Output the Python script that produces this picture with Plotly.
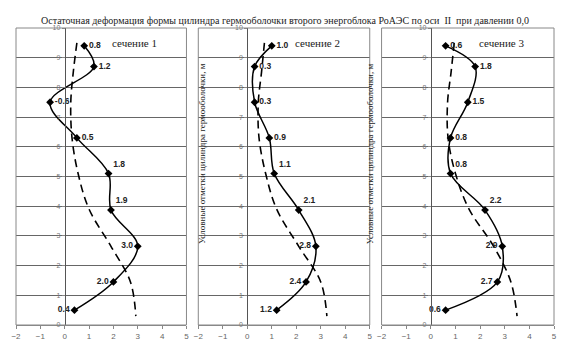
import plotly.graph_objects as go

# ---- data ----
heights = [9.4, 8.7, 7.5, 6.3, 5.1, 3.87, 2.65, 1.45, 0.5]
sec1 = [0.8, 1.2, -0.6, 0.5, 1.8, 1.9, 3.0, 2.0, 0.4]
sec2 = [1.0, 0.3, 0.3, 0.9, 1.1, 2.1, 2.8, 2.4, 1.2]
sec3 = [0.6, 1.8, 1.5, 0.8, 0.8, 2.2, 2.9, 2.7, 0.6]

dash_h = [9.5, 8.5, 7.5, 6.3, 5.1, 3.9, 2.65, 1.45, 0.3]
dash1 = [0.5, 0.35, 0.25, 0.3, 0.55, 1.0, 1.9, 2.7, 2.92]
dash2 = [0.7, 0.58, 0.45, 0.48, 0.75, 1.2, 2.1, 3.0, 3.25]
dash3 = [0.95, 0.82, 0.68, 0.7, 1.0, 1.55, 2.55, 3.25, 3.5]

section_names = ["сечение 1", "сечение 2", "сечение 3"]
title_text = "Остаточная деформация формы цилиндра гермооболочки второго энергоблока РоАЭС по оси  II  при давлении 0,0"
ytitle_text = "Условные отметки цилиндра гермооболочки, м"
xticks = [-2, -1, 0, 1, 2, 3, 4, 5]
yticks = [0, 1, 2, 3, 4, 5, 6, 7, 8, 9, 10]

# ---- styles ----
pos1 = ["middle right", "middle right", "middle right", "middle right", "top right",
        "top right", "middle left", "middle left", "middle left"]
pos2 = ["middle right", "middle right", "middle right", "middle right", "top right",
        "top right", "middle left", "middle left", "middle left"]
pos3 = ["middle right", "middle right", "middle right", "middle right", "top right",
        "top right", "middle left", "middle left", "middle left"]

W, H = 568, 352
ml, mr, mt, mb = 11, 11, 28, 19
pw = W - ml - mr
domains = [[(11 - ml) / pw, (184 - ml) / pw],
           [(196 - ml) / pw, (370 - ml) / pw],
           [(382 - ml) / pw, (557 - ml) / pw]]

fig = go.Figure()
series = [(sec1, dash1, pos1), (sec2, dash2, pos2), (sec3, dash3, pos3)]
grid_col = "#666666"
for i, (s, d, p) in enumerate(series):
    xa = "x" if i == 0 else f"x{i+1}"
    ya = "y" if i == 0 else f"y{i+1}"
    fig.add_trace(go.Scatter(x=d, y=dash_h, mode="lines", xaxis=xa, yaxis=ya,
                             line=dict(color="black", width=1.6, dash="8px,5px",
                                       shape="spline", smoothing=1.0),
                             showlegend=False, hoverinfo="skip"))
    fig.add_trace(go.Scatter(x=s, y=heights, mode="lines+markers+text", xaxis=xa, yaxis=ya,
                             line=dict(color="black", width=1.5, shape="spline", smoothing=1.0),
                             marker=dict(symbol="diamond", size=6, color="black"),
                             text=[f"{v:.1f}" for v in s], textposition=p,
                             textfont=dict(family="Arial, Liberation Sans", size=8.5, color="#222",
                                           weight="bold"),
                             showlegend=False, hoverinfo="skip"))
    dom = domains[i]
    zero_pos = dom[0] + (dom[1] - dom[0]) * 2 / 7
    xkey = "xaxis" if i == 0 else f"xaxis{i+1}"
    ykey = "yaxis" if i == 0 else f"yaxis{i+1}"
    fig.layout[xkey] = dict(domain=dom, range=[-2, 5], anchor=ya, tickvals=xticks,
                            showgrid=False, zeroline=False, ticks="outside", ticklen=3,
                            tickcolor="#888", showline=True, linecolor="#888", linewidth=1,
                            tickfont=dict(family="Arial, Liberation Sans", size=8, color="#666"),
                            fixedrange=True)
    fig.layout[ykey] = dict(domain=[0, 1], range=[0, 10], anchor="free", position=zero_pos,
                            tickvals=yticks, showgrid=True, gridcolor=grid_col, gridwidth=1,
                            zeroline=False, ticks="outside", ticklen=3, tickcolor="#888",
                            showline=True, linecolor="#555", linewidth=1,
                            tickfont=dict(family="Arial, Liberation Sans", size=7, color="#777"),
                            fixedrange=True)
    fig.add_shape(type="rect", xref=f"{xa} domain", yref=f"{ya} domain", x0=0, x1=1, y0=0, y1=1,
                  line=dict(color="#888", width=1), layer="above")
    fig.add_annotation(x=2.85, y=9.5, xref=xa, yref=ya, text=section_names[i], showarrow=False,
                       font=dict(family="Liberation Serif, Times New Roman", size=11, color="#222"))

fig.add_annotation(x=0.5, y=1 + (28 - 13) / 305, xref="paper", yref="paper", text=title_text,
                   showarrow=False, font=dict(family="Liberation Serif, Times New Roman", size=10,
                                              color="#222"))
for xp in [(192 - ml) / pw, (377 - ml) / pw]:
    fig.add_annotation(x=xp, y=1 - (157 - 28) / 305, xref="paper", yref="paper", text=ytitle_text,
                       textangle=-90, showarrow=False,
                       font=dict(family="Liberation Serif, Times New Roman", size=9, color="#222"))

fig.update_layout(width=W, height=H, margin=dict(l=ml, r=mr, t=mt, b=mb),
                  paper_bgcolor="white", plot_bgcolor="white")
fig.write_html("out.html")
